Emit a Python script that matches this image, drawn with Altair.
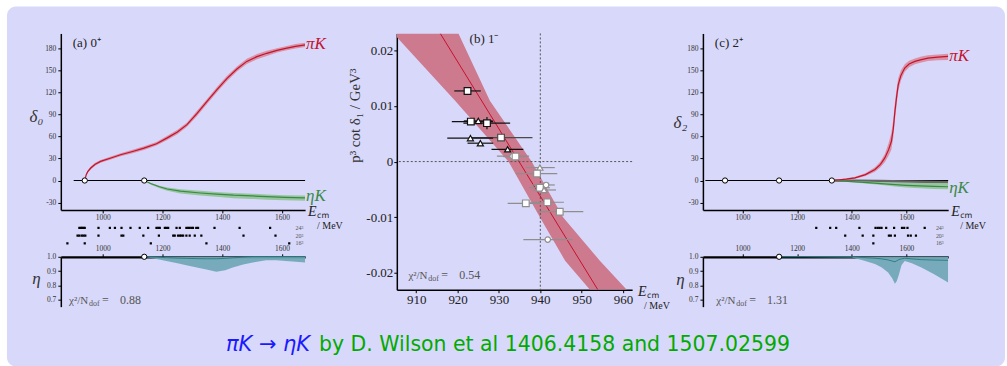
import altair as alt
import pandas as pd

BG = "#d8d8fa"
SERIF = "Liberation Serif"
SANS = "DejaVu Sans"
RED = "#c4122f"
RED_BAND = "#d98c9c"
GREEN = "#3a8a45"
GREEN_BAND = "#8fc394"
TEAL = "#2d7f86"
TEAL_BAND = "#72a9b8"
BLUE = "#1a1aff"
CAP_GREEN = "#00aa00"

# ---------------- panel (a) 0+ ----------------
a_pik_E = [940, 945, 950, 960, 975, 993, 1030, 1060, 1100, 1138, 1180, 1216, 1250, 1282, 1315, 1349, 1383, 1416, 1450, 1482, 1516, 1549, 1583, 1616, 1645, 1677]
a_pik_d = [0, 8, 12, 17, 22, 26, 31, 35, 39.5, 44, 50, 58, 66, 76, 91, 107.5, 124, 139, 152, 162, 168.5, 173, 177, 180, 182.5, 184.5]
a_pik_lo = [0, 7, 10.5, 15, 20, 24, 29, 33, 37, 41.5, 47.5, 55, 63, 73, 87.5, 104, 120.5, 135.5, 148.5, 158.5, 165, 169.5, 174, 177, 179.5, 181.5]
a_pik_hi = [0, 9, 13.5, 19, 24, 28, 33, 37, 42, 46.5, 52.5, 61, 69, 79, 94.5, 111, 127.5, 142.5, 155.5, 165.5, 172, 176.5, 180, 183, 185.5, 187.5]

a_etak_E = [1139, 1160, 1190, 1216, 1260, 1327, 1380, 1438, 1500, 1549, 1610, 1677]
a_etak_d = [0, -4, -8.5, -11.5, -14.5, -17, -18.5, -20, -21, -22, -23, -23.5]
a_etak_lo = [0, -5.5, -10.5, -14, -17.5, -20.5, -22, -24, -25, -26, -27, -27.5]
a_etak_hi = [0, -3, -7, -9.5, -12, -14, -15.5, -17, -18, -19, -20, -20.5]

a_thresholds = [940, 1139]
a_zero_line = [903, 1677]

a_eta_E = [1139, 1180, 1213, 1250, 1280, 1315, 1347, 1380, 1410, 1435, 1470, 1502, 1547, 1580, 1613, 1645, 1677]
a_eta_lo = [1.0, 0.985, 0.97, 0.955, 0.94, 0.925, 0.91, 0.895, 0.905, 0.925, 0.945, 0.96, 0.975, 0.975, 0.97, 0.965, 0.96]
a_eta_c = [1.0, 0.997, 0.994, 0.991, 0.989, 0.987, 0.986, 0.986, 0.989, 0.993, 0.997, 1.0, 1.0, 1.0, 1.0, 1.0, 1.0]
a_eta_thr = [1139]

a_L24 = [922, 927, 931, 936, 940, 986, 1024, 1041, 1063, 1093, 1124, 1152, 1180, 1186, 1191, 1208, 1213, 1219, 1247, 1258, 1280, 1286, 1291, 1297, 1302, 1313, 1319, 1374, 1458, 1560]
a_L20 = [916, 922, 930, 936, 942, 986, 1063, 1069, 1136, 1188, 1236, 1241, 1252, 1258, 1263, 1269, 1280, 1291, 1308, 1330, 1471, 1578]
a_L16 = [882, 940, 1161, 1347, 1624]

# ---------------- panel (c) 2+ ----------------
c_pik_E = [1327, 1380, 1412, 1450, 1485, 1505, 1521, 1535, 1545, 1552, 1558, 1564, 1570, 1580, 1594, 1610, 1631, 1655, 1679, 1715, 1753]
c_pik_d = [0, 2, 3.6, 8, 15, 22, 30.7, 42, 53, 70, 94, 113, 130, 143, 153, 158.5, 162, 164.5, 166.5, 167.8, 168.7]
c_pik_lo = [0, 1, 2.5, 6, 12, 18, 25, 34, 42, 58, 82, 102, 121, 136, 148, 154, 158, 160.5, 162.5, 163.5, 164]
c_pik_hi = [0, 3, 5, 10, 18, 26, 36, 51, 65, 83, 106, 124, 139, 150, 158, 163, 166, 168.5, 170.5, 171.5, 172.5]

c_etak_E = [1327, 1400, 1458, 1520, 1558, 1600, 1650, 1700, 1753]
c_etak_d = [0, -1.5, -3, -4.5, -5.6, -6.5, -7.3, -8, -8.5]
c_etak_lo = [0, -2.5, -4.5, -6.5, -8, -9.5, -10.5, -11.5, -12]
c_etak_hi = [0, -0.8, -1.5, -2.5, -3, -3.2, -3.3, -3.4, -3.5]

c_other_E = [1327, 1500, 1600, 1753]
c_other_d = [0, -0.8, -1.5, -2.2]

c_thresholds = [936, 1134, 1327]
c_zero_line = [864, 1753]

c_eta_E = [1134, 1400, 1440, 1485, 1510, 1533, 1548, 1558, 1565, 1572, 1582, 1594, 1620, 1655, 1700, 1753]
c_eta_lo = [1.0, 0.995, 0.975, 0.95, 0.925, 0.89, 0.85, 0.81, 0.83, 0.87, 0.94, 0.97, 0.955, 0.925, 0.88, 0.82]
c_eta_c = [1.0, 1.0, 0.995, 0.99, 0.985, 0.978, 0.97, 0.965, 0.972, 0.98, 0.985, 0.99, 0.985, 0.98, 0.977, 0.975]
c_eta_thr = [1134]

c_L24 = [1270, 1321, 1343, 1428, 1487, 1495, 1502, 1509, 1526, 1555, 1584, 1592, 1604, 1667]
c_L20 = [1376, 1440, 1479, 1536, 1543, 1558, 1606, 1616, 1635]
c_L16 = [1479]

# ---------------- panel (b) 1- ----------------
b_E = [922.4, 923.2, 925.0, 927.1, 930.5, 923.1, 925.5, 932.1, 933.3, 934.0, 939.9, 939.2, 941.4, 939.9, 940.9, 936.5, 941.7, 944.7, 941.8]
b_v = [0.01268, 0.00718, 0.0073, 0.0069, 0.0043, 0.0042, 0.0033, 0.0022, 0.00097, 0.0009, -0.00108, -0.00215, -0.0042, -0.0047, -0.0051, -0.0075, -0.0073, -0.009, -0.014]
b_xlo = [919.2, 918.6, 921.5, 921.4, 923.4, 917.5, 922.4, 928.2, 929.5, 931.0, 936.5, 934.1, 937.9, 937.3, 938.2, 932.1, 937.5, 939.4, 935.9]
b_xhi = [925.6, 928.6, 928.5, 932.7, 938.1, 928.6, 928.6, 935.9, 937.3, 936.5, 943.5, 944.1, 943.5, 942.3, 943.8, 939.9, 945.7, 950.4, 947.8]
b_ylo = [0.0123, 0.0070, 0.0072, 0.0058, 0.0041, 0.0041, 0.0032, 0.0021, 0.0008, 0.0007, -0.0012, -0.0024, -0.0043, -0.0049, -0.0052, -0.0078, -0.0076, -0.0094, -0.0144]
b_yhi = [0.0131, 0.0074, 0.0074, 0.0080, 0.0045, 0.0043, 0.0034, 0.0023, 0.0011, 0.0011, -0.0009, -0.0019, -0.0041, -0.0045, -0.0050, -0.0072, -0.0070, -0.0086, -0.0136]
b_shape = ["square", "square", "triangle", "square", "square", "triangle", "triangle", "triangle", "circle", "square",
           "triangle", "square", "circle", "square", "triangle", "square", "square", "square", "circle"]
b_tone = ["black", "black", "black", "black", "dark", "black", "black", "black", "grey", "grey",
          "grey", "grey", "grey", "grey", "grey", "grey", "grey", "grey", "grey"]

b_band_v = [0.023, 0.0109, 0.0, -0.01, -0.0178, -0.023]
b_band_left = [904.5, 919.4, 932.3, 939.9, 946.0, 952.0]
b_band_right = [920.2, 927.8, 937.9, 945.5, 954.4, 960.9]
b_line_E = [915.8, 953.9]
b_line_v = [0.023, -0.023]

ONE = pd.DataFrame({"k": [0]})

# vertical layout of the stacked panels (a) and (c), in pixels of the panel
PH_H, STRIP_BOT, ETA_TOP, FULL_H = 177, 224, 224, 274
TOP = 32  # distance from the page top to the panels' top


def txt(s, x, y, size, color="black", font=SERIF, style="normal", align="left", baseline="alphabetic"):
    return alt.Chart(ONE).mark_text(text=s, font=font, fontSize=size, fontStyle=style, color=color,
                                    align=align, baseline=baseline).encode(x=alt.value(x), y=alt.value(y))


def spacer(w, h):
    return alt.Chart(ONE).mark_point(opacity=0).encode(x=alt.value(0), y=alt.value(0)).properties(width=w, height=h)


def ecm_label(w, y0):
    return [txt("E", w + 3, y0, 14, font=SERIF, style="italic", color="#222"),
            txt("cm", w + 12, y0 + 2, 8, font="DejaVu Sans", color="#222"),
            txt("/ MeV", w + 12, y0 + 13, 10, color="#222")]


def chi_label(x0, y, val):
    return [txt("χ²/N", x0, y, 11, color="#555"),
            txt("dof", x0 + 20, y + 2.5, 8, color="#555"),
            txt("=", x0 + 33, y, 12, color="#555"),
            txt(val, x0 + 51, y, 12, color="#555")]


def circles(df, X, Y):
    return alt.Chart(df).mark_point(shape="circle", size=28, filled=True, fill="white", stroke="black",
                                    strokeWidth=1, opacity=1).encode(x=X("E"), y=Y("c"))


def stacked_panel(w, dom, pik, etak, thr, zero, title_txt, ytitle, ytitle_pos, pik_lbl, etak_lbl,
                  L24, L20, L16, lbl_E, eta, eta_thr, eta_title_pos, chi_x, chi_val, other=None, extra=None):
    common_ax = dict(labelFont=SERIF, labelFontSize=7.5, labelColor="#333", tickColor="black", tickSize=3,
                     domainColor="black", grid=False)
    # ---- phase shift part ----
    xs1 = alt.Scale(domain=dom, nice=False, zero=False)
    ys1 = alt.Scale(domain=[-40, 200], range=[PH_H, 0], nice=False, zero=False)
    xax1 = alt.Axis(orient="bottom", offset=PH_H - FULL_H, values=[1000, 1200, 1400, 1600], format="d",
                    domainWidth=1.5, labelPadding=1, title="", **common_ax)
    yax1 = alt.Axis(orient="left", values=[-30, 0, 30, 60, 90, 120, 150, 180], format="d",
                    labelExpr="replace(datum.label, '\u2212', '-')", domainWidth=1.5, labelPadding=2,
                    title=ytitle, titleAngle=0, titleX=ytitle_pos[0], titleY=ytitle_pos[1], titleFont=SERIF,
                    titleFontSize=17, titleFontWeight="normal", titleFontStyle="italic", titleAlign="center",
                    titleBaseline="middle", titleColor="#333", **common_ax)
    X1 = lambda f: alt.X(f, type="quantitative", scale=xs1, axis=xax1)
    Y1 = lambda f: alt.Y(f, type="quantitative", scale=ys1, axis=yax1)

    pdf = pd.DataFrame({"E": pik[0], "c": pik[1], "lo": pik[2], "hi": pik[3]})
    edf = pd.DataFrame({"E": etak[0], "c": etak[1], "lo": etak[2], "hi": etak[3]})
    zdf = pd.DataFrame({"E": [zero[0]], "E2": [zero[1]], "c": [0]})
    tdf = pd.DataFrame({"E": thr, "c": [0] * len(thr)})

    ph = [alt.Chart(zdf).mark_rule(color="black", strokeWidth=1.2).encode(x=X1("E"), x2="E2", y=Y1("c"))]
    if other is not None:
        odf = pd.DataFrame({"E": other[0], "c": other[1]})
        ph.append(alt.Chart(odf).mark_line(color="#666", strokeWidth=2.5, clip=True).encode(x=X1("E"), y=Y1("c")))
    ph += [
        alt.Chart(edf).mark_area(color=GREEN_BAND, opacity=0.9, clip=True).encode(x=X1("E"), y=Y1("lo"), y2="hi"),
        alt.Chart(edf).mark_line(color=GREEN, strokeWidth=1.2, clip=True).encode(x=X1("E"), y=Y1("c")),
        alt.Chart(pdf).mark_area(color=RED_BAND, opacity=0.9, clip=True).encode(x=X1("E"), y=Y1("lo"), y2="hi"),
        alt.Chart(pdf).mark_line(color=RED, strokeWidth=1.2, clip=True).encode(x=X1("E"), y=Y1("c")),
        circles(tdf, X1, Y1),
    ]
    phase = alt.layer(*ph)

    # ---- lattice energy levels strip ----
    xs2 = alt.Scale(domain=dom, nice=False, zero=False)
    ys2 = alt.Scale(domain=[9.05, 33.3], range=[STRIP_BOT, PH_H], nice=False, zero=False)
    sdf = pd.DataFrame({"E": L24 + L20 + L16, "L": [24] * len(L24) + [20] * len(L20) + [16] * len(L16)})
    ldf = pd.DataFrame({"E": [lbl_E, lbl_E, lbl_E], "L": [24, 20, 16], "t": ["24³", "20³", "16³"]})
    strip = alt.layer(
        alt.Chart(sdf).mark_square(size=5, color="black", opacity=1).encode(
            x=alt.X("E:Q", scale=xs2, axis=None), y=alt.Y("L:Q", scale=ys2, axis=None)),
        alt.Chart(ldf).mark_text(align="left", baseline="middle", font=SERIF, fontSize=6, color="#555").encode(
            x=alt.X("E:Q", scale=xs2, axis=None), y=alt.Y("L:Q", scale=ys2, axis=None), text="t:N"),
    )

    # ---- inelasticity part ----
    xs3 = alt.Scale(domain=dom, nice=False, zero=False)
    ys3 = alt.Scale(domain=[0.65, 1.0], range=[FULL_H, ETA_TOP], nice=False, zero=False)
    xax3 = alt.Axis(orient="top", offset=-ETA_TOP, values=[1000, 1200, 1400, 1600], format="d",
                    domainWidth=2.2, labelPadding=1, title="", **common_ax)
    yax3 = alt.Axis(orient="left", values=[0.7, 0.8, 0.9, 1.0], format=".1f", domainWidth=1.5, labelPadding=2,
                    title="η", titleAngle=0, titleX=eta_title_pos[0], titleY=ETA_TOP + eta_title_pos[1],
                    titleFont=SERIF, titleFontSize=17, titleFontWeight="normal", titleFontStyle="italic",
                    titleAlign="center", titleBaseline="middle", titleColor="#333", **common_ax)
    X3 = lambda f: alt.X(f, type="quantitative", scale=xs3, axis=xax3)
    Y3 = lambda f: alt.Y(f, type="quantitative", scale=ys3, axis=yax3)
    edf3 = pd.DataFrame({"E": eta[0], "lo": eta[1], "c": eta[2]})
    etdf = pd.DataFrame({"E": eta_thr, "c": [1.0] * len(eta_thr)})
    etap = alt.layer(
        alt.Chart(edf3).mark_area(color=TEAL_BAND, opacity=0.95, clip=True).encode(
            x=X3("E"), y=Y3("lo"), y2=alt.datum(1.0)),
        alt.Chart(edf3).mark_line(color=TEAL, strokeWidth=1, clip=True).encode(x=X3("E"), y=Y3("c")),
        circles(etdf, X3, Y3),
    )

    texts = [txt(title_txt, 12, 14, 13, color="#222"),
             txt("πK", w + 1, pik_lbl, 17, color=RED, style="italic"),
             txt("ηK", w + 1, etak_lbl, 17, color=GREEN, style="italic")]
    texts += ecm_label(w, 183)
    texts += chi_label(chi_x, ETA_TOP + 47, chi_val)
    if extra is not None:
        texts += extra
    return alt.layer(phase, strip, etap, *texts).resolve_scale(x="independent", y="independent").properties(
        width=w, height=FULL_H)


def panel_b(w, h):
    xs = alt.Scale(domain=[905.3, 962.2], nice=False, zero=False)
    ys = alt.Scale(domain=[-0.023, 0.023], nice=False, zero=False)
    xax = alt.Axis(values=[910, 920, 930, 940, 950, 960], format="d", title="", labelFont=SERIF, labelFontSize=13,
                   labelColor="#222", tickColor="black", tickSize=3, domainColor="black", domainWidth=1.5,
                   grid=False, labelPadding=1)
    yax = alt.Axis(values=[-0.02, -0.01, 0, 0.01, 0.02],
                   labelExpr="datum.value == 0 ? '0' : replace(format(datum.value, '.2f'), '\u2212', '-')",
                   title="p³ cot δ₁ / GeV³", titleX=-42, titleY=82, titleFont=SERIF, titleFontSize=15,
                   titleFontWeight="normal", titleAlign="center", titleBaseline="middle", titleColor="#333",
                   labelFont=SERIF, labelFontSize=13, labelColor="#222", tickColor="black", tickSize=3,
                   domainColor="black", domainWidth=1.5, grid=False, labelPadding=1)
    X = lambda f: alt.X(f, type="quantitative", scale=xs, axis=xax)
    Y = lambda f: alt.Y(f, type="quantitative", scale=ys, axis=yax)

    band = pd.DataFrame({"v": b_band_v, "l": b_band_left, "r": b_band_right})
    line = pd.DataFrame({"E": b_line_E, "v": b_line_v})
    pts = pd.DataFrame({"E": b_E, "v": b_v, "xlo": b_xlo, "xhi": b_xhi, "ylo": b_ylo, "yhi": b_yhi,
                        "shape": b_shape, "tone": b_tone})
    tone_scale = alt.Scale(domain=["black", "dark", "grey"], range=["#111111", "#4a4a4a", "#8e8e8e"])

    layers = [
        alt.Chart(band).mark_area(color="#cd7a8e", orient="horizontal", clip=True).encode(
            y=Y("v"), x=X("l"), x2="r"),
        alt.Chart(line).mark_line(color="#c8102e", strokeWidth=1, clip=True).encode(x=X("E"), y=Y("v")),
        alt.Chart(ONE).mark_rule(color="#555", strokeDash=[2, 2], strokeWidth=1).encode(y=alt.datum(0)),
        alt.Chart(ONE).mark_rule(color="#555", strokeDash=[2, 2], strokeWidth=1).encode(x=alt.datum(940)),
        alt.Chart(pts).mark_rule(strokeWidth=1.2).encode(
            x=X("xlo"), x2="xhi", y=Y("v"), color=alt.Color("tone:N", scale=tone_scale, legend=None)),
        alt.Chart(pts).mark_rule(strokeWidth=1.2).encode(
            x=X("E"), y=Y("ylo"), y2="yhi", color=alt.Color("tone:N", scale=tone_scale, legend=None)),
        alt.Chart(pts).mark_point(filled=True, fill="white", strokeWidth=1.2, opacity=1).encode(
            x=X("E"), y=Y("v"),
            shape=alt.Shape("shape:N", scale=alt.Scale(domain=["square", "triangle", "circle"],
                                                       range=["square", "triangle-up", "circle"]), legend=None),
            size=alt.Size("shape:N", scale=alt.Scale(domain=["square", "triangle", "circle"],
                                                     range=[45, 30, 24]), legend=None),
            stroke=alt.Stroke("tone:N", scale=tone_scale, legend=None)),
        txt("(b)  1⁻", 73, 10, 13, color="#222"),
    ]
    layers += chi_label(11.6, 246, "0.54")
    layers += [txt("E", w + 6, h + 6, 14, style="italic", color="#222"),
               txt("cm", w + 15, h + 8, 8, font="DejaVu Sans", color="#222"),
               txt("/ MeV", w + 12, h + 19, 10, color="#222")]
    return alt.layer(*layers).properties(width=w, height=h)


A_DOM = [860, 1677]
C_DOM = [855, 1753]

# caption, placed relative to panel (a)'s view (which starts 60 px from the left and 32 px from the top)
caption = [
    txt("πK → ηK", 250, 318, 21, color=BLUE, font=SANS, style="italic", align="right"),
    txt("by D. Wilson et al 1406.4158 and 1507.02599", 259, 318, 20.5, color=CAP_GREEN, font=SANS),
]

panelA = stacked_panel(245, A_DOM, (a_pik_E, a_pik_d, a_pik_lo, a_pik_hi), (a_etak_E, a_etak_d, a_etak_lo, a_etak_hi),
                       a_thresholds, a_zero_line, "(a)  0⁺", "δ₀", (-25, 83), 16, 168,
                       a_L24, a_L20, a_L16, 1645, (a_eta_E, a_eta_lo, a_eta_c), a_eta_thr, (-25, 22),
                       8.3, "0.88", extra=caption)

panelC = stacked_panel(246, C_DOM, (c_pik_E, c_pik_d, c_pik_lo, c_pik_hi), (c_etak_E, c_etak_d, c_etak_lo, c_etak_hi),
                       c_thresholds, c_zero_line, "(c)  2⁺", "δ₂", (-23, 89), 28, 160,
                       c_L24, c_L20, c_L16, 1708, (c_eta_E, c_eta_lo, c_eta_c), c_eta_thr, (-23, 23),
                       13.4, "1.31", other=(c_other_E, c_other_d))

panelB = panel_b(236, 257)

# left margin column, which also carries the rounded lavender backdrop of the slide
frame = alt.Chart(ONE).mark_rect(fill=BG, cornerRadius=9).encode(
    x=alt.value(6), x2=alt.value(1007), y=alt.value(5 - TOP), y2=alt.value(366 - TOP)
).properties(width=60, height=FULL_H)

chart = alt.hconcat(frame, panelA, spacer(91.7, FULL_H), panelB, spacer(70.6, FULL_H), panelC,
                    spacer(57.7, FULL_H), spacing=0, bounds="flush").properties(
    background="white", padding={"left": 0, "top": 5, "right": 0, "bottom": 0}
).configure_view(stroke="transparent")

chart.save("out.html", embed_options={"renderer": "svg", "actions": False})
